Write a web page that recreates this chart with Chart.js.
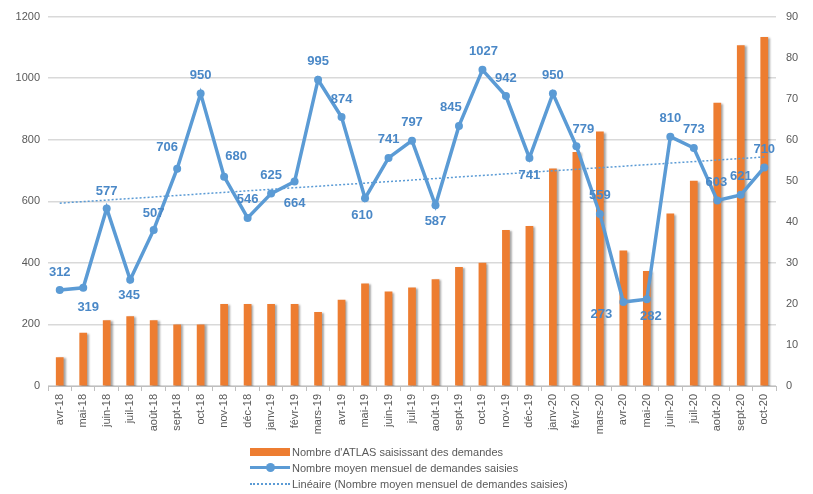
<!DOCTYPE html>
<html>
<head>
<meta charset="utf-8">
<script src="https://cdn.jsdelivr.net/npm/chart.js@4"></script>
<style>
  html, body { margin: 0; padding: 0; background: #fff; }
  #wrap { position: relative; width: 813px; height: 494px; }
  #legend { position: absolute; left: 250px; top: 444px; font: 11px "Liberation Sans", Arial, sans-serif; color: #595959; }
  .row { height: 16px; display: flex; align-items: center; }
  .sym { width: 40px; height: 16px; position: relative; margin-right: 2px; }
  .bar { position: absolute; left: 0; top: 4px; width: 40px; height: 8px; background: #ED7D31; }
  .ln { position: absolute; left: 0; top: 6px; width: 40px; height: 3px; background: #5B9BD5; }
  .dot { position: absolute; left: 16px; top: 3px; width: 9px; height: 9px; border-radius: 50%; background: #5B9BD5; }
  .dash { position: absolute; left: 0; top: 7px; width: 40px; border-top: 2px dotted #5B9BD5; }
</style>
</head>
<body>
<div id="wrap">
  <canvas id="c" width="813" height="494"></canvas>
  <div id="legend">
    <div class="row"><div class="sym"><div class="bar"></div></div>Nombre d'ATLAS saisissant des demandes</div>
    <div class="row"><div class="sym"><div class="ln"></div><div class="dot"></div></div>Nombre moyen mensuel de demandes saisies</div>
    <div class="row"><div class="sym"><div class="dash"></div></div>Linéaire (Nombre moyen mensuel de demandes saisies)</div>
  </div>
</div>
<script>
// --- data ---
const months = ['avr-18','mai-18','juin-18','juil-18','août-18','sept-18','oct-18','nov-18','déc-18',
  'janv-19','févr-19','mars-19','avr-19','mai-19','juin-19','juil-19','août-19','sept-19','oct-19','nov-19','déc-19',
  'janv-20','févr-20','mars-20','avr-20','mai-20','juin-20','juil-20','août-20','sept-20','oct-20'];

// bars, right axis
const atlasCount = [7,13,16,17,16,15,15,20,20,20,20,18,21,25,23,24,26,29,30,38,39,53,57,62,33,28,42,50,69,83,85];

// line, left axis
const avgRequests = [312,319,577,345,507,706,950,680,546,625,664,995,874,610,741,797,587,845,1027,942,741,
  950,779,559,273,282,810,773,603,621,710];

// trend line ends (first and last month), left axis
const trendEnds = [594, 744];

const leftTicks = [0,200,400,600,800,1000,1200];
const rightTicks = [0,10,20,30,40,50,60,70,80,90];

// label placement around each point [dx, dy]
const labelOffsets = [[0,-18],[5,20],[0,-17],[-1,16],[0,-17],[-10,-21],[0,-18],[12,-20],[0,-19],[0,-18],
  [0,22],[0,-18],[0,-18],[-3,17],[0,-18],[0,-18],[0,16],[-8,-18],[1,-18],[0,-18],[0,18],
  [0,-18],[7,-17],[0,-18],[-22,12],[4,17],[0,-18],[0,-19],[-1,-18],[0,-18],[0,-18]];

const trendData = months.map((m, i) => i === 0 ? trendEnds[0] : (i === months.length - 1 ? trendEnds[1] : null));

const barShadow = {
  id: 'barShadow',
  beforeDatasetDraw(chart, args) {
    if (args.index !== 0) return;
    const ctx = chart.ctx;
    ctx.save();
    ctx.shadowColor = 'rgba(0,0,0,0.35)';
    ctx.shadowOffsetX = 2;
    ctx.shadowOffsetY = 1;
    ctx.shadowBlur = 2;
  },
  afterDatasetDraw(chart, args) {
    if (args.index !== 0) return;
    chart.ctx.restore();
  }
};

const pointLabels = {
  id: 'pointLabels',
  afterDatasetsDraw(chart) {
    const ctx = chart.ctx;
    const meta = chart.getDatasetMeta(1);
    ctx.save();
    ctx.font = 'bold 13px "Liberation Sans", Arial, sans-serif';
    ctx.fillStyle = '#4A88C7';
    ctx.textAlign = 'center';
    ctx.textBaseline = 'middle';
    meta.data.forEach((pt, i) => {
      const o = labelOffsets[i];
      ctx.fillText(String(avgRequests[i]), pt.x + o[0], pt.y + o[1]);
    });
    ctx.restore();
  }
};

const tickFont = { family: '"Liberation Sans", Arial, sans-serif', size: 11 };

new Chart(document.getElementById('c'), {
  data: {
    labels: months,
    datasets: [
      { type: 'bar', label: "Nombre d'ATLAS saisissant des demandes", data: atlasCount, yAxisID: 'yR',
        backgroundColor: '#ED7D31', barPercentage: 0.33, categoryPercentage: 1, order: 3 },
      { type: 'line', label: 'Nombre moyen mensuel de demandes saisies', data: avgRequests, yAxisID: 'yL',
        borderColor: '#5B9BD5', backgroundColor: '#5B9BD5', borderWidth: 3.5, pointRadius: 4,
        pointBorderWidth: 0, tension: 0, order: 1 },
      { type: 'line', label: 'Linéaire (Nombre moyen mensuel de demandes saisies)', data: trendData, yAxisID: 'yL',
        borderColor: '#5B9BD5', borderWidth: 1.5, borderDash: [2, 2], pointRadius: 0, spanGaps: true, order: 2 }
    ]
  },
  options: {
    responsive: false,
    animation: false,
    layout: { padding: { top: 10, bottom: 60, left: 0, right: 0 } },
    plugins: { legend: { display: false }, tooltip: { enabled: false } },
    scales: {
      x: {
        offset: true,
        grid: { display: true, drawOnChartArea: false, offset: true, tickLength: 5, color: '#BFBFBF' },
        border: { color: '#BFBFBF' },
        ticks: { minRotation: 90, maxRotation: 90, autoSkip: false, color: '#595959', font: tickFont },
        afterFit(s) { s.height = 48; }
      },
      yL: {
        position: 'left', min: 0, max: 1200,
        afterBuildTicks(s) { s.ticks = leftTicks.map(v => ({ value: v })); },
        grid: { color: '#D9D9D9', lineWidth: 1.5, drawTicks: false },
        border: { display: false },
        ticks: { color: '#595959', padding: 8, font: tickFont, callback: v => String(v) },
        afterFit(s) { s.width = 48; }
      },
      yR: {
        position: 'right', min: 0, max: 90,
        afterBuildTicks(s) { s.ticks = rightTicks.map(v => ({ value: v })); },
        grid: { drawOnChartArea: false, drawTicks: false },
        border: { display: false },
        ticks: { color: '#595959', padding: 10, font: tickFont, callback: v => String(v) },
        afterFit(s) { s.width = 37; }
      }
    }
  },
  plugins: [barShadow, pointLabels]
});
</script>
</body>
</html>
